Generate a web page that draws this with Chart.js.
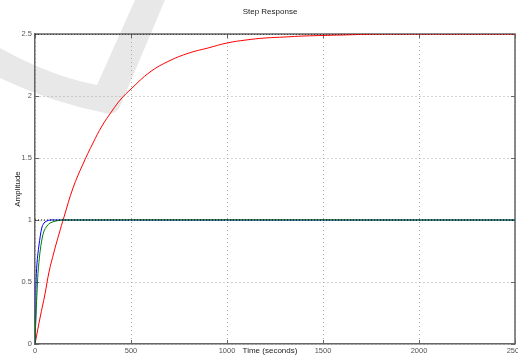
<!DOCTYPE html>
<html>
<head>
<meta charset="utf-8">
<script src="https://cdn.jsdelivr.net/npm/chart.js@4"></script>
<style>
    html, body { margin: 0; padding: 0; background: #fff; }
    #wrap { width: 518px; height: 356px; position: relative; }
</style>
</head>
<body>
<div id="wrap"><canvas id="chart"></canvas></div>
<script>
// step response readings (time in seconds, amplitude)
const redTime = [0, 25, 50, 75, 100, 125, 150, 200, 250, 300, 350, 400, 450, 500, 600, 700, 800, 900, 1000, 1100, 1200, 1300, 1400, 1600, 1800, 2000, 2500];
const redAmp = [0, 0.21, 0.402, 0.578, 0.739, 0.886, 1.021, 1.257, 1.455, 1.62, 1.76, 1.877, 1.975, 2.058, 2.19, 2.28, 2.345, 2.39, 2.425, 2.45, 2.467, 2.479, 2.487, 2.495, 2.498, 2.5, 2.5];

const blueTime = [0, 3, 6, 12, 20, 35, 50, 78, 100, 2500];
const blueAmp = [0, 0.3, 0.48, 0.65, 0.8, 0.946, 0.98, 0.997, 1, 1];

const greenTime = [0, 5, 9, 15, 25, 35, 45, 60, 80, 110, 140, 2500];
const greenAmp = [0, 0.25, 0.41, 0.57, 0.74, 0.85, 0.91, 0.95, 0.975, 0.99, 1, 1];

// steady state levels
const finalTime = [0, 2500];
const finalLevels = [1, 2.5];

const xTicks = [0, 500, 1000, 1500, 2000, 2500];
const yTicks = [0, 0.5, 1, 1.5, 2, 2.5];

const axisColor = '#666';
const fontFamily = '"Liberation Sans", Arial, Helvetica, sans-serif';

let toPoints = (xs, ys) => xs.map((x, i) => ({ x: x, y: ys[i] }));

let lineSet = (label, xs, ys, color, tension) => {
    return {
        label: label,
        data: toPoints(xs, ys),
        borderColor: color,
        borderWidth: 1,
        pointRadius: 0,
        fill: false,
        tension: tension
    };
}

// chart.js paints index 0 last, so the dotted levels go first
let datasets = [];
finalLevels.forEach(level => {
    datasets.push({
        label: 'final ' + level,
        data: toPoints(finalTime, finalTime.map(() => level)),
        borderColor: '#000',
        borderWidth: 1,
        borderDash: [1, 2],
        pointRadius: 0,
        fill: false
    });
});
datasets.push(lineSet('sys2', greenTime, greenAmp, '#008000', 0.3));
datasets.push(lineSet('sys1', blueTime, blueAmp, '#0000ff', 0.3));
datasets.push(lineSet('sys3', redTime, redAmp, '#ff0000', 0.4));

// faint check mark drawn behind the plot
const watermark = {
    id: 'watermark',
    beforeDraw(chart) {
        let ctx = chart.ctx;
        ctx.save();
        ctx.fillStyle = '#e8e8e8';
        ctx.beginPath();
        ctx.moveTo(0, 48);
        ctx.quadraticCurveTo(50, 76, 97, 85);
        ctx.lineTo(135, 0);
        ctx.lineTo(165, 0);
        ctx.lineTo(121, 104);
        ctx.quadraticCurveTo(117, 116, 105, 113);
        ctx.quadraticCurveTo(50, 102, 0, 78);
        ctx.closePath();
        ctx.fill();
        ctx.restore();
    }
};

// matlab style box, inward ticks and titles
const matlabAxes = {
    id: 'matlabAxes',
    beforeDatasetsDraw(chart) {
        let ctx = chart.ctx;
        let area = chart.chartArea;
        let x = chart.scales.x;
        let y = chart.scales.y;
        ctx.save();
        ctx.strokeStyle = axisColor;
        ctx.lineWidth = 1.5;
        ctx.beginPath();
        ctx.moveTo(area.left, area.top);
        ctx.lineTo(area.right, area.top);
        ctx.lineTo(area.right, area.bottom);
        ctx.stroke();

        ctx.lineWidth = 1;
        ctx.beginPath();
        xTicks.forEach(t => {
            let px = Math.round(x.getPixelForValue(t)) + 0.5;
            ctx.moveTo(px, area.bottom);
            ctx.lineTo(px, area.bottom - 4);
            ctx.moveTo(px, area.top);
            ctx.lineTo(px, area.top + 4);
        });
        yTicks.forEach(t => {
            let py = Math.round(y.getPixelForValue(t)) + 0.5;
            ctx.moveTo(area.left, py);
            ctx.lineTo(area.left + 4, py);
            ctx.moveTo(area.right, py);
            ctx.lineTo(area.right - 4, py);
        });
        ctx.stroke();
        ctx.restore();
    },
    afterDraw(chart) {
        let ctx = chart.ctx;
        let area = chart.chartArea;
        ctx.save();
        ctx.fillStyle = '#222';
        ctx.font = '8px ' + fontFamily;
        ctx.textAlign = 'center';
        ctx.textBaseline = 'middle';
        ctx.fillText('Step Response', 270, 12);
        ctx.fillText('Time (seconds)', 270, 351);
        ctx.translate(18, (area.top + area.bottom) / 2);
        ctx.rotate(-Math.PI / 2);
        ctx.fillText('Amplitude', 0, 0);
        ctx.restore();
    }
};

let gridLayout = {
    color: '#a8a8a8',
    lineWidth: 1,
    drawTicks: false
};

new Chart(document.getElementById('chart'), {
    type: 'line',
    data: { datasets: datasets },
    options: {
        responsive: true,
        maintainAspectRatio: false,
        animation: false,
        events: [],
        layout: { padding: { top: 34, right: 3, bottom: 0, left: 0 } },
        plugins: {
            legend: { display: false },
            title: { display: false },
            tooltip: { enabled: false }
        },
        scales: {
            x: {
                type: 'linear',
                min: 0,
                max: 2500,
                alignToPixels: true,
                afterFit: scale => {
                    scale.height = 12;
                    scale.paddingLeft = 0;
                    scale.paddingRight = 0;
                },
                afterBuildTicks: scale => {
                    scale.ticks = xTicks.map(v => ({ value: v }));
                },
                ticks: {
                    color: '#555',
                    padding: 2,
                    maxRotation: 0,
                    autoSkip: false,
                    font: { family: fontFamily, size: 7.5 },
                    callback: v => String(v)
                },
                grid: gridLayout,
                border: { display: true, color: axisColor, width: 1.5, dash: [1, 3] }
            },
            y: {
                min: 0,
                max: 2.5,
                alignToPixels: true,
                afterFit: scale => {
                    scale.width = 35;
                    scale.paddingTop = 0;
                    scale.paddingBottom = 0;
                },
                afterBuildTicks: scale => {
                    scale.ticks = yTicks.map(v => ({ value: v }));
                },
                ticks: {
                    color: '#555',
                    padding: 3,
                    autoSkip: false,
                    font: { family: fontFamily, size: 7.5 },
                    callback: v => String(v)
                },
                grid: gridLayout,
                border: { display: true, color: axisColor, width: 1.5, dash: [1, 3] }
            }
        }
    },
    plugins: [watermark, matlabAxes]
});
</script>
</body>
</html>
